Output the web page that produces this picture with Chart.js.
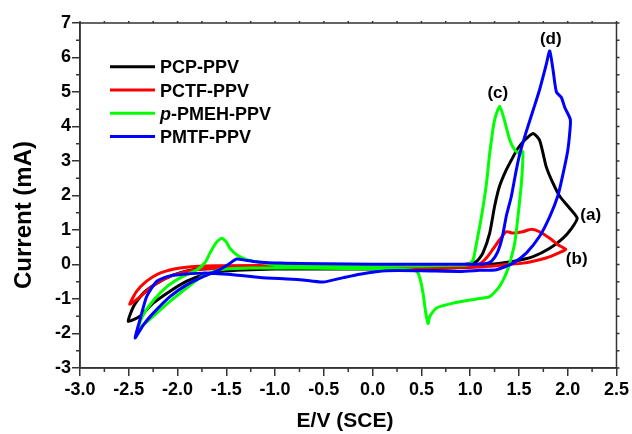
<!DOCTYPE html>
<html>
<head>
<meta charset="utf-8">
<script src="https://cdn.jsdelivr.net/npm/chart.js@4.4.1/dist/chart.umd.min.js"></script>
<style>
  html, body { margin: 0; padding: 0; background: #fff; }
  #wrap { width: 632px; height: 434px; }
</style>
</head>
<body>
<div id="wrap"><canvas id="myChart" width="632" height="434"></canvas></div>
<script>
// series names (legend)
const seriesNames = ['PCP-PPV', 'PCTF-PPV', 'p-PMEH-PPV', 'PMTF-PPV']
const seriesColors = ['#000000', '#ff0000', '#00ff00', '#0000ff']

// (a) PCP-PPV : potential (V) and current (mA), one closed scan
const pcpV = [0, 0.5, 0.9, 0.96, 1.065, 1.13, 1.20, 1.25, 1.30, 1.37, 1.44, 1.49, 1.56, 1.645, 1.71, 1.747, 1.78, 1.85, 1.92, 2.02, 2.097,
  2.04, 1.95, 1.816, 1.645, 1.44, 1.2, 1.0, 0.5, 0, -0.5, -1.0, -1.57, -1.74, -1.91, -2.08, -2.25, -2.385, -2.505,
  -2.45, -2.35, -2.21, -2.04, -1.84, -1.5, -1.0, -0.5, 0]
const pcpI = [-0.02, -0.01, 0.0, 0.01, 0.09, 0.33, 0.91, 1.68, 2.26, 2.74, 3.12, 3.37, 3.61, 3.8, 3.61, 3.22, 2.83, 2.35, 1.97, 1.63, 1.34,
  1.05, 0.76, 0.47, 0.23, 0.09, 0.0, -0.08, -0.12, -0.13, -0.13, -0.13, -0.2, -0.3, -0.49, -0.78, -1.12, -1.5, -1.65,
  -1.21, -0.83, -0.54, -0.3, -0.15, -0.1, -0.07, -0.04, -0.02]

// (b) PCTF-PPV
const pctfV = [0, 0.5, 1.0, 1.10, 1.17, 1.235, 1.30, 1.37, 1.44, 1.54, 1.63, 1.71, 1.816, 1.90, 1.98,
  1.92, 1.82, 1.71, 1.54, 1.37, 1.2, 1.0, 0.5, 0, -1.0, -1.737, -1.975, -2.15, -2.28, -2.42, -2.49,
  -2.42, -2.32, -2.18, -1.975, -1.737, -1.0, 0]
const pctfI = [-0.03, -0.03, -0.02, 0.02, 0.2, 0.45, 0.71, 0.95, 0.91, 0.95, 1.02, 0.95, 0.76, 0.57, 0.44,
  0.35, 0.23, 0.14, 0.04, 0.0, -0.05, -0.08, -0.09, -0.09, -0.09, -0.13, -0.25, -0.44, -0.68, -1.02, -1.15,
  -0.78, -0.49, -0.25, -0.1, -0.04, -0.03, -0.03]

// (c) p-PMEH-PPV
const pmehV = [0, 0.5, 0.9, 0.98, 1.03, 1.065, 1.116, 1.167, 1.20, 1.25, 1.303, 1.35, 1.406, 1.457, 1.508, 1.54,
  1.525, 1.49, 1.457, 1.406, 1.37, 1.34, 1.30, 1.20, 1.065, 0.826, 0.655, 0.586, 0.569, 0.545, 0.517, 0.48, 0.45, 0.38,
  0, -0.5, -1.0, -1.22, -1.566, -1.753, -1.907, -2.078, -2.25, -2.35, -2.41,
  -2.36, -2.25, -2.1, -1.95, -1.8, -1.72, -1.668, -1.6, -1.548, -1.50, -1.463, -1.395, -1.29, -1.12, -0.95, -0.5, 0]
const pmehI = [-0.05, -0.04, -0.02, 0.0, 0.14, 0.62, 1.39, 2.35, 3.22, 4.19, 4.59, 4.19, 3.61, 3.32, 3.22, 3.27,
  2.35, 1.39, 0.62, 0.04, -0.25, -0.44, -0.64, -0.93, -1.0, -1.12, -1.26, -1.5, -1.71, -1.41, -0.83, -0.35, -0.2, -0.15,
  -0.12, -0.11, -0.1, -0.1, -0.15, -0.35, -0.68, -1.07, -1.5, -1.75, -1.9,
  -1.5, -1.05, -0.62, -0.35, -0.15, 0.05, 0.33, 0.65, 0.76, 0.65, 0.47, 0.28, 0.14, 0.04, -0.03, -0.05, -0.05]

// (d) PMTF-PPV
const pmtfV = [0, 0.5, 1.0, 1.15, 1.22, 1.28, 1.33, 1.37, 1.42, 1.47, 1.51, 1.575, 1.645, 1.71, 1.78, 1.816,
  1.85, 1.884, 1.935, 1.97, 2.027, 2.02, 2.0, 1.95, 1.90, 1.816, 1.71, 1.575, 1.44, 1.27, 1.10, 0.89, 0.5, 0.14,
  -0.13, -0.3, -0.507, -0.746, -1.156, -1.43, -1.737, -2.078, -2.214, -2.317, -2.385, -2.436,
  -2.35, -2.249, -2.078, -1.907, -1.737, -1.566, -1.48, -1.395, -1.3, -1.224, -0.951, -0.5, 0]
const pmtfI = [0.01, 0.01, 0.01, 0.02, 0.1, 0.35, 0.8, 1.4, 1.95, 2.7, 3.22, 3.85, 4.47, 5.05, 5.8, 6.19,
  5.63, 5.0, 4.84, 4.55, 4.2, 3.8, 3.3, 2.6, 2.0, 1.39, 0.81, 0.33, 0.04, -0.15, -0.17, -0.2, -0.18, -0.18,
  -0.28, -0.38, -0.51, -0.44, -0.375, -0.3, -0.25, -0.33, -0.49, -0.93, -1.6, -2.13,
  -1.75, -1.41, -0.93, -0.59, -0.35, -0.15, 0.0, 0.16, 0.12, 0.09, 0.04, 0.02, 0.01]

// curve labels and where they sit (V, mA)
const peakTags = ['(a)', '(b)', '(c)', '(d)']
const peakTagV = [2.236, 2.092, 1.283, 1.826]
const peakTagI = [1.44, 0.14, 4.97, 6.53]

const xTicksMin = -3, xTicksMax = 2.5
const yTicksMin = -3, yTicksMax = 7

const toPoints = (vs, is) => vs.map((v, k) => ({ x: v, y: is[k] }))
const allV = [pcpV, pctfV, pmehV, pmtfV]
const allI = [pcpI, pctfI, pmehI, pmtfI]
const drawOrder = [3, 2, 1, 0]

const FONT = 'Arial, "Liberation Sans", sans-serif'
const frameColor = '#333333'

const extras = {
    id: 'extras',
    afterDraw(chart) {
        const c = chart.ctx
        const a = chart.chartArea
        const xs = chart.scales.x, ys = chart.scales.y
        c.save()
        // frame
        c.strokeStyle = frameColor
        c.lineWidth = 1.5
        c.strokeRect(a.left, a.top, a.right - a.left, a.bottom - a.top)
        // minor ticks and top/right ticks
        c.beginPath()
        for (let v = xTicksMin; v <= xTicksMax + 1e-9; v += 0.25) {
            const px = xs.getPixelForValue(v)
            const major = Math.abs(v * 2 - Math.round(v * 2)) < 1e-6
            if (!major) { c.moveTo(px, a.bottom); c.lineTo(px, a.bottom + 4) }
            c.moveTo(px, a.top); c.lineTo(px, a.top - 2)
        }
        for (let v = yTicksMin; v <= yTicksMax + 1e-9; v += 0.5) {
            const py = ys.getPixelForValue(v)
            const major = Math.abs(v - Math.round(v)) < 1e-6
            if (!major) { c.moveTo(a.left, py); c.lineTo(a.left - 4, py) }
            c.moveTo(a.right, py); c.lineTo(a.right + 3, py)
        }
        c.stroke()

        // axis titles
        c.fillStyle = '#000'
        c.font = 'bold 21px ' + FONT
        c.textAlign = 'center'
        c.textBaseline = 'middle'
        c.fillText('E/V (SCE)', 345, 421)
        c.save()
        c.translate(24, 215)
        c.rotate(-Math.PI / 2)
        c.font = 'bold 24px ' + FONT
        c.fillText('Current (mA)', 0, 0)
        c.restore()

        // legend
        chart.data.datasets.forEach((ds, k) => {
            const y = 66.7 + k * 23.3
            c.strokeStyle = ds.borderColor
            c.lineWidth = 3
            c.beginPath(); c.moveTo(110, y); c.lineTo(155, y); c.stroke()
            c.textAlign = 'left'
            c.textBaseline = 'alphabetic'
            c.fillStyle = '#000'
            let tx = 160
            let txt = ds.label
            if (txt.startsWith('p-')) {
                c.font = 'italic bold 18px ' + FONT
                c.fillText('p', tx, y + 6.5)
                tx += c.measureText('p').width
                txt = txt.slice(1)
            }
            c.font = 'bold 18px ' + FONT
            c.fillText(txt, tx, y + 6.5)
        })

        // curve tags
        c.font = 'bold 17px ' + FONT
        c.textAlign = 'center'
        c.textBaseline = 'middle'
        peakTags.forEach((t, k) => {
            c.fillText(t, xs.getPixelForValue(peakTagV[k]), ys.getPixelForValue(peakTagI[k]))
        })
        c.restore()
    }
}

const ctx = document.getElementById('myChart').getContext('2d')
const myChart = new Chart(ctx, {
    type: 'scatter',
    data: {
        datasets: seriesNames.map((name, k) => ({
            label: name,
            data: toPoints(allV[k], allI[k]),
            showLine: true,
            borderColor: seriesColors[k],
            backgroundColor: seriesColors[k],
            borderWidth: 3,
            pointRadius: 0,
            tension: 0.2,
            order: drawOrder[k]
        }))
    },
    options: {
        responsive: false,
        animation: false,
        layout: { padding: { top: 23, right: 15, left: 0, bottom: 0 } },
        plugins: { legend: { display: false }, tooltip: { enabled: false } },
        scales: {
            x: {
                type: 'linear',
                min: xTicksMin,
                max: xTicksMax,
                afterFit: s => { s.height = 66 },
                ticks: {
                    stepSize: 0.5,
                    padding: 3,
                    color: '#000',
                    font: { family: FONT, size: 18, weight: 'bold' },
                    callback: v => v.toFixed(1)
                },
                grid: { drawOnChartArea: false, tickLength: 8, color: frameColor, lineWidth: 1.5 },
                border: { color: frameColor, width: 1.5 }
            },
            y: {
                type: 'linear',
                min: yTicksMin,
                max: yTicksMax,
                afterFit: s => { s.width = 80 },
                ticks: {
                    stepSize: 1,
                    padding: 1,
                    color: '#000',
                    font: { family: FONT, size: 18, weight: 'bold' }
                },
                grid: { drawOnChartArea: false, tickLength: 8, color: frameColor, lineWidth: 1.5 },
                border: { color: frameColor, width: 1.5 }
            }
        }
    },
    plugins: [extras]
})
</script>
</body>
</html>
